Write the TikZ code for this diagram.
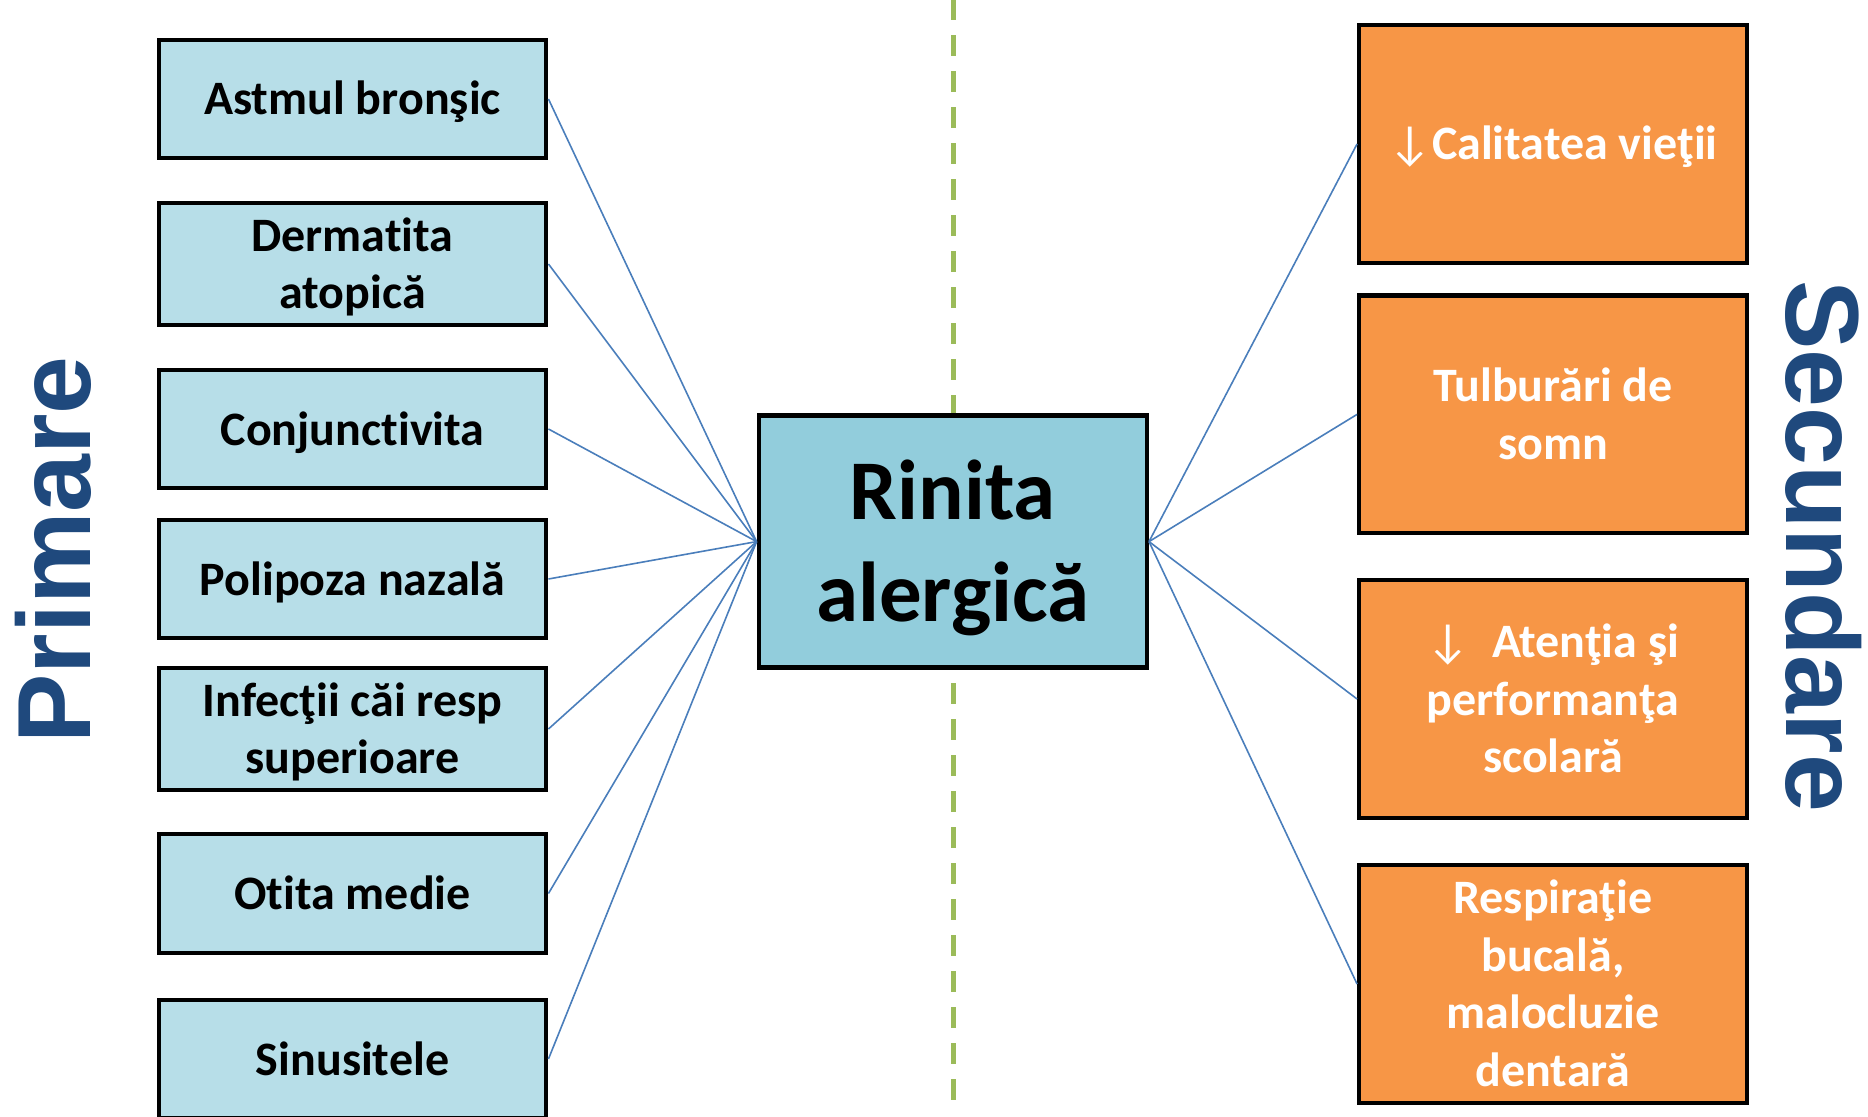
\documentclass[tikz,border=0pt]{standalone}
\usepackage{fontspec}
\setmainfont{Carlito}[Ligatures={NoCommon}]
\newfontfamily\arrowfont{DejaVu Sans}
\newfontfamily\headfont{Liberation Sans}
\definecolor{lblue}{HTML}{B7DEE8}
\definecolor{cblue}{HTML}{92CDDC}
\definecolor{orangebox}{HTML}{F79646}
\definecolor{connblue}{HTML}{4A7EBB}
\definecolor{dashgreen}{HTML}{9BBB59}
\definecolor{headblue}{HTML}{1F497D}
\newcommand{\dn}{{\mdseries\iffontchar\font"2193 \char"2193 \else{\arrowfont\char"2193}\fi}}
% struts: first-line height / last-line depth
\newcommand{\bx}[1]{\rule{0pt}{24pt}#1\rule[-8pt]{0pt}{8pt}}
\newcommand{\cx}[1]{\rule{0pt}{40pt}#1\rule[-11.1pt]{0pt}{11.1pt}}
\begin{document}
\begin{tikzpicture}[x=0.5pt,y=-0.5pt,
  lbox/.style={draw=black, line width=2.2pt, fill=lblue, minimum width=193.75pt, minimum height=59.25pt, inner sep=0pt, align=center, font=\fontsize{24}{28.8}\selectfont\bfseries},
  rbox/.style={draw=black, line width=2.2pt, fill=orangebox, minimum width=193.75pt, minimum height=118.75pt, inner sep=0pt, align=center, text=white, font=\fontsize{24}{28.8}\selectfont\bfseries},
  cbox/.style={draw=black, line width=2.2pt, fill=cblue, minimum width=194pt, minimum height=126pt, inner sep=0pt, align=center, font=\fontsize{42.5}{51.2}\selectfont\bfseries},
  conn/.style={draw=connblue, line width=0.8pt},
  dashline/.style={draw=dashgreen, line width=2.5pt, dash pattern=on 10.25pt off 7.75pt},
  head/.style={text=headblue, font=\fontsize{52}{60}\selectfont\headfont\bfseries, inner sep=0pt}
]
\useasboundingbox (0,0) rectangle (1868,1117);
\clip (0,0) rectangle (1868,1117);

% dashed divider
\coordinate (dtop) at (953,-0.7);
\coordinate (dbot) at (953,1101);
\draw[dashline] (dtop) -- (dbot);

% centre
\node[cbox] (hub) at (952.8,541.6) {\cx{Rinita\\alergică}};

% left boxes
\node[lbox] (l1) at (352.5,99) {\bx{Astmul bronşic}};
\node[lbox] (l2) at (352.5,264) {\bx{Dermatita\\atopică}};
\node[lbox] (l3) at (352.5,429) {\bx{Conjunctivita}};
\node[lbox] (l4) at (352.5,579) {\bx{Polipoza nazală}};
\node[lbox] (l5) at (352.5,729) {\bx{Infecţii căi resp\\superioare}};
\node[lbox] (l6) at (352.5,893.5) {\bx{Otita medie}};
\node[lbox] (l7) at (352.5,1059) {\bx{Sinusitele}};

% right boxes
\node[rbox] (r1) at (1553,144) {\bx{\dn Calitatea vieţii}};
\node[rbox] (r2) at (1553,414.4) {\bx{Tulburări de\\somn}};
\node[rbox] (r3) at (1553,699) {\bx{\dn\ \ Atenţia şi\\performanţa\\scolară}};
\node[rbox] (r4) at (1553,984) {\bx{Respiraţie\\bucală,\\malocluzie\\dentară}};

% connectors
\foreach \n in {l1,l2,l3,l4,l5,l6,l7} { \draw[conn] (\n.east) -- (hub.west); }
\foreach \n in {r1,r2,r3,r4} { \draw[conn] (hub.east) -- (\n.west); }

% side headings
\node[head, rotate=90] (primare) at (53.5,550) {Primare};
\node[head, rotate=-90] (secundare) at (1824,546) {Secundare};
\end{tikzpicture}
\end{document}
